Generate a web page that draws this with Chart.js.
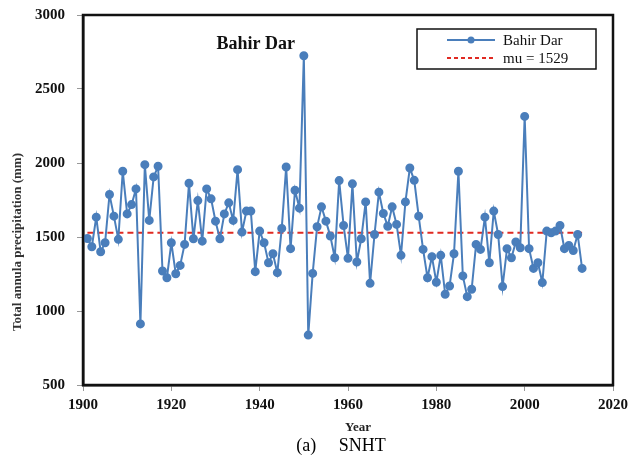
<!DOCTYPE html>
<html>
<head>
<meta charset="utf-8">
<script src="https://cdn.jsdelivr.net/npm/chart.js@4/dist/chart.umd.min.js"></script>
<style>
  html, body { margin: 0; padding: 0; background: #fff; }
  #wrap { width: 634px; height: 459px; }
</style>
</head>
<body>
<div id="wrap"><canvas id="snht"></canvas></div>
<script>
const years = [
  1901, 1902, 1903, 1904, 1905, 1906, 1907, 1908, 1909, 1910,
  1911, 1912, 1913, 1914, 1915, 1916, 1917, 1918, 1919, 1920,
  1921, 1922, 1923, 1924, 1925, 1926, 1927, 1928, 1929, 1930,
  1931, 1932, 1933, 1934, 1935, 1936, 1937, 1938, 1939, 1940,
  1941, 1942, 1943, 1944, 1945, 1946, 1947, 1948, 1949, 1950,
  1951, 1952, 1953, 1954, 1955, 1956, 1957, 1958, 1959, 1960,
  1961, 1962, 1963, 1964, 1965, 1966, 1967, 1968, 1969, 1970,
  1971, 1972, 1973, 1974, 1975, 1976, 1977, 1978, 1979, 1980,
  1981, 1982, 1983, 1984, 1985, 1986, 1987, 1988, 1989, 1990,
  1991, 1992, 1993, 1994, 1995, 1996, 1997, 1998, 1999, 2000,
  2001, 2002, 2003, 2004, 2005, 2006, 2007, 2008, 2009, 2010,
  2011, 2012, 2013
];
const rainfall = [
  1490, 1434, 1634, 1400, 1461, 1787, 1641, 1484, 1944, 1656,
  1719, 1825, 913, 1989, 1612, 1906, 1978, 1270, 1225, 1461,
  1252, 1308, 1450, 1863, 1488, 1746, 1472, 1825, 1758, 1607,
  1488, 1656, 1731, 1612, 1955, 1533, 1675, 1675, 1266, 1540,
  1461, 1326, 1387, 1259, 1558, 1973, 1421, 1816, 1695, 2725,
  837, 1254, 1569, 1704, 1607, 1506, 1360, 1881, 1578, 1356,
  1859, 1331, 1488, 1737, 1187, 1517, 1803, 1659, 1573, 1704,
  1585, 1376, 1737, 1966, 1883, 1641, 1416, 1225, 1367, 1194,
  1376, 1113, 1169, 1387, 1944, 1237, 1097, 1147, 1450, 1416,
  1634, 1326, 1675, 1517, 1165, 1421, 1360, 1466, 1427, 2315,
  1421, 1288, 1326, 1192, 1540, 1528, 1540, 1578, 1421, 1443,
  1409, 1517, 1288
];
const mu = 1529;
const muYears = [1901, 2013];
const xTicks = [1900, 1920, 1940, 1960, 1980, 2000, 2020];
const yTicks = [500, 1000, 1500, 2000, 2500, 3000];

const blue = "#4a7ebb";
const red = "#e02a22";
const serif = "'Liberation Serif', 'DejaVu Serif', serif";

var seriesPts = [];
for (var i = 0; i < years.length; i++) seriesPts.push({ x: years[i], y: rainfall[i] });
var muPts = muYears.map(function (y) { return { x: y, y: mu }; });

// frame, station label, legend box, axis captions
const extras = {
  id: "extras",
  afterDraw(chart) {
    var ctx = chart.ctx;
    var a = chart.chartArea;
    var xs = chart.scales.x, ys = chart.scales.y;
    ctx.save();

    ctx.strokeStyle = "#111";
    ctx.lineWidth = 2.5;
    ctx.strokeRect(a.left, a.top, a.right - a.left, a.bottom - a.top);

    ctx.fillStyle = "#111";
    ctx.font = "bold 18px " + serif;
    ctx.textAlign = "left";
    ctx.textBaseline = "middle";
    ctx.fillText("Bahir Dar", xs.getPixelForValue(1930.2), ys.getPixelForValue(2800));

    // legend
    var lx = 417, ly = 29, lw = 179, lh = 40;
    ctx.fillStyle = "#fff";
    ctx.fillRect(lx, ly, lw, lh);
    ctx.strokeStyle = "#111";
    ctx.lineWidth = 1.5;
    ctx.strokeRect(lx, ly, lw, lh);

    var r1 = ly + 11, r2 = ly + 29;
    ctx.strokeStyle = blue;
    ctx.lineWidth = 2;
    ctx.beginPath(); ctx.moveTo(447, r1); ctx.lineTo(495, r1); ctx.stroke();
    ctx.fillStyle = blue;
    ctx.beginPath(); ctx.arc(471, r1, 3.5, 0, Math.PI * 2); ctx.fill();

    ctx.strokeStyle = red;
    ctx.setLineDash([4, 3]);
    ctx.beginPath(); ctx.moveTo(447, r2); ctx.lineTo(495, r2); ctx.stroke();
    ctx.setLineDash([]);

    ctx.fillStyle = "#111";
    ctx.font = "15px " + serif;
    ctx.fillText("Bahir Dar", 503, r1 + 1);
    ctx.fillText("mu = " + mu, 503, r2 + 1);

    // axis titles
    ctx.textAlign = "center";
    ctx.font = "bold 13px " + serif;
    ctx.fillStyle = "#222";
    ctx.fillText("Year", (a.left + a.right) / 2 + 10, 428);

    ctx.font = "18px " + serif;
    ctx.fillStyle = "#000";
    ctx.fillText("(a)     SNHT", 341, 446);

    ctx.translate(18, 242);
    ctx.rotate(-Math.PI / 2);
    ctx.font = "bold 13px " + serif;
    ctx.fillStyle = "#333";
    ctx.fillText("Total annula precipitation (mm)", 0, 0);
    ctx.restore();
  }
};

new Chart(document.getElementById("snht"), {
  type: "line",
  data: {
    datasets: [
      {
        label: "Bahir Dar",
        data: seriesPts,
        borderColor: blue,
        backgroundColor: blue,
        borderWidth: 2,
        pointRadius: 3.5,
        pointBackgroundColor: blue,
        pointBorderColor: blue,
        tension: 0
      },
      {
        label: "mu = " + mu,
        data: muPts,
        borderColor: red,
        borderWidth: 2,
        borderDash: [6, 4],
        pointRadius: 0
      }
    ]
  },
  options: {
    responsive: true,
    maintainAspectRatio: false,
    animation: false,
    layout: { autoPadding: false, padding: { top: 15, right: 21, left: 0, bottom: 0 } },
    plugins: {
      legend: { display: false },
      tooltip: { enabled: false }
    },
    scales: {
      x: {
        type: "linear",
        min: 1900,
        max: 2020,
        afterBuildTicks: function (scale) {
          scale.ticks = xTicks.map(function (v) { return { value: v }; });
        },
        afterFit: function (scale) { scale.height = 74; },
        ticks: {
          callback: function (v) { return String(v); },
          font: { family: serif, size: 15, weight: "bold" },
          color: "#111",
          padding: 5,
          maxRotation: 0
        },
        grid: { drawOnChartArea: false, tickLength: 6, color: "#999" },
        border: { color: "#111", width: 2.5 }
      },
      y: {
        min: 500,
        max: 3000,
        afterBuildTicks: function (scale) {
          scale.ticks = yTicks.map(function (v) { return { value: v }; });
        },
        afterFit: function (scale) {
          scale.width = 83;
          scale.paddingTop = 0;
          scale.paddingBottom = 0;
        },
        ticks: {
          callback: function (v) { return String(v); },
          font: { family: serif, size: 15, weight: "bold" },
          color: "#111",
          padding: 12
        },
        grid: { drawOnChartArea: false, tickLength: 6, color: "#999" },
        border: { color: "#111", width: 2.5 }
      }
    }
  },
  plugins: [extras]
});
</script>
</body>
</html>
